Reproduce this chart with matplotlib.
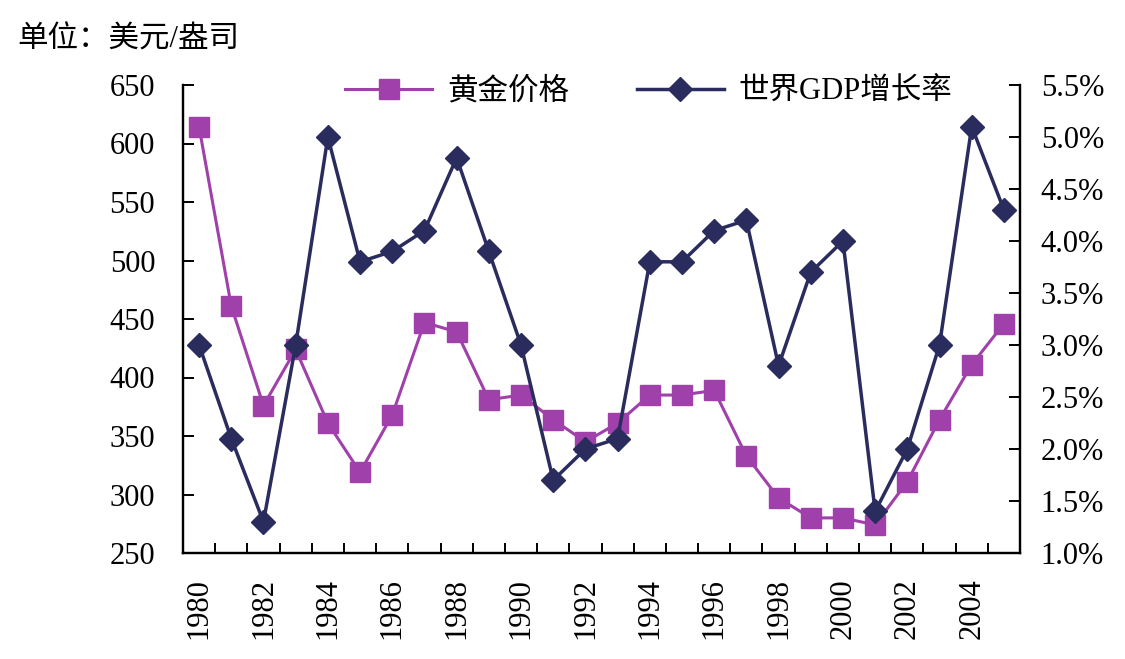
import matplotlib
matplotlib.use("Agg")
import matplotlib.pyplot as plt
from matplotlib.ticker import FixedLocator, FuncFormatter

years = list(range(1980, 2006))
gold_price = [614, 461, 376, 424, 361, 319, 368, 447, 439, 381, 385, 364, 345, 361,
              385, 385, 389, 333, 297, 280, 280, 274, 311, 364, 411, 446]
gdp_growth = [3.0, 2.1, 1.3, 3.0, 5.0, 3.8, 3.9, 4.1, 4.8, 3.9, 3.0, 1.7, 2.0, 2.1,
              3.8, 3.8, 4.1, 4.2, 2.8, 3.7, 4.0, 1.4, 2.0, 3.0, 5.1, 4.3]
left_ticks = [250, 300, 350, 400, 450, 500, 550, 600, 650]
right_ticks = [1.0, 1.5, 2.0, 2.5, 3.0, 3.5, 4.0, 4.5, 5.0, 5.5]
year_labels = list(range(1980, 2005, 2))

FAM = ['Liberation Serif', 'Noto Sans CJK SC']
plt.rcParams['font.family'] = FAM
plt.rcParams['axes.unicode_minus'] = False

GOLD_C = '#A040AA'
GDP_C = '#2A2C5E'
FS = 22

fig = plt.figure(figsize=(11.25, 6.59), dpi=100)
ax = fig.add_axes([183/1125, 1-553/659, (1020-183)/1125, (553-85)/659])
ax2 = ax.twinx()

l1, = ax.plot(years, gold_price, color=GOLD_C, lw=2.2, marker='s', ms=14,
              mfc=GOLD_C, mec=GOLD_C, label='黄金价格', zorder=3)
l2, = ax2.plot(years, gdp_growth, color=GDP_C, lw=2.5, marker='D', ms=12.5,
               mfc=GDP_C, mec=GDP_C, label='世界GDP增长率', zorder=4)

ax.set_xlim(1979.5, 2005.5)
ax.set_ylim(250, 650)
ax2.set_ylim(1.0, 5.5)

for a in (ax, ax2):
    a.spines['top'].set_visible(False)
    for s in ('left', 'right', 'bottom'):
        a.spines[s].set_linewidth(1.6)
        a.spines[s].set_color('black')

ax.set_yticks(left_ticks)
ax.tick_params(axis='y', direction='in', length=8, width=1.4, labelsize=FS, pad=20)
ax2.set_yticks(right_ticks)
ax2.yaxis.set_major_formatter(FuncFormatter(lambda v, p: f'{v:.1f}%'))
ax2.tick_params(axis='y', direction='in', length=8, width=1.4, labelsize=FS, pad=15)

ax.xaxis.set_major_locator(FixedLocator(year_labels))
ax.set_xticklabels([str(y) for y in year_labels], rotation=90)
ax.xaxis.set_minor_locator(FixedLocator([y + 0.5 for y in years[:-1]]))
ax.tick_params(axis='x', which='major', length=0, labelsize=FS, pad=18)
ax.tick_params(axis='x', which='minor', direction='in', length=7, width=1.4)

for lab in ax.get_yticklabels() + ax2.get_yticklabels() + ax.get_xticklabels():
    lab.set_family(FAM)

fig.text(17/1125, 1-40/659, '单位：美元/盎司', fontsize=FS, va='center', ha='left',
         family=FAM)

leg = fig.legend(handles=[l1, l2], loc='center left', bbox_to_anchor=(345/1125, 1-92/659),
                 ncol=2, frameon=False, handlelength=2.85,
                 handletextpad=0.5, columnspacing=2.2, borderpad=0, borderaxespad=0,
                 prop={'family': FAM, 'size': FS})

fig.savefig('out.png', dpi=100)
